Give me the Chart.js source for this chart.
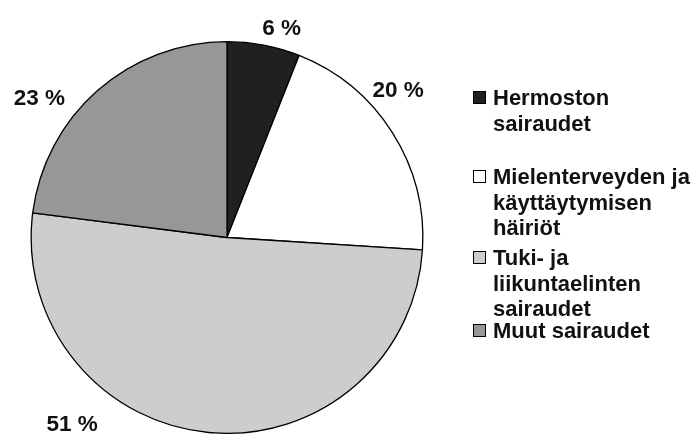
<!DOCTYPE html>
<html>
<head>
<meta charset="utf-8">
<script src="https://cdn.jsdelivr.net/npm/chart.js@4.4.1/dist/chart.umd.min.js"></script>
<style>
  html, body { margin: 0; padding: 0; background: #fff; overflow: hidden; }
  #wrap { width: 694px; height: 434px; position: relative; }
</style>
</head>
<body>
<div id="wrap"><canvas id="c"></canvas></div>
<script>
// ---- data ----
const categories = [
  ["Hermoston", "sairaudet"],
  ["Mielenterveyden ja", "käyttäytymisen", "häiriöt"],
  ["Tuki- ja", "liikuntaelinten", "sairaudet"],
  ["Muut sairaudet"]
];
const shares = [6, 20, 51, 23];
const valueLabels = ["6 %", "20 %", "51 %", "23 %"];

// ---- styles ----
const fills = ["#202020", "#ffffff", "#cdcdcd", "#979797"];
// label placement: angle (deg clockwise from top) and distance from pie center
const labelPlacement = [[14.6, 217], [49.2, 226], [219.8, 242], [306.7, 234]];
// legend: baseline of first line of each entry
const legendFirstBaseline = [105, 184, 265, 338];
const legendLineHeight = 25.5;

const labelPlugin = {
  id: 'customLabels',
  afterDraw(chart) {
    const ctx = chart.ctx;
    const meta = chart.getDatasetMeta(0);
    ctx.save();
    ctx.fillStyle = '#111';
    ctx.font = 'bold 22.5px "Liberation Sans", Arial, sans-serif';
    ctx.textAlign = 'center';
    ctx.textBaseline = 'middle';
    meta.data.forEach((arc, i) => {
      const a = labelPlacement[i][0] * Math.PI / 180;
      const d = labelPlacement[i][1];
      const x = arc.x + d * Math.sin(a);
      const y = arc.y - d * Math.cos(a);
      ctx.fillText(valueLabels[i], x, y + 1);
    });
    // legend
    ctx.font = 'bold 22px "Liberation Sans", Arial, sans-serif';
    ctx.textAlign = 'left';
    ctx.textBaseline = 'alphabetic';
    chart.data.labels.forEach((lines, i) => {
      const b = legendFirstBaseline[i];
      ctx.fillStyle = fills[i];
      ctx.fillRect(473, b - 14, 13, 13);
      ctx.strokeStyle = '#000';
      ctx.lineWidth = 1;
      ctx.strokeRect(473.5, b - 13.5, 12, 12);
      ctx.fillStyle = '#111';
      lines.forEach((t, j) => ctx.fillText(t, 493, b + j * legendLineHeight));
    });
    ctx.restore();
  }
};

new Chart(document.getElementById('c'), {
  type: 'pie',
  data: {
    labels: categories,
    datasets: [{
      data: shares,
      backgroundColor: fills,
      borderColor: '#000',
      borderWidth: 1.3
    }]
  },
  options: {
    responsive: true,
    maintainAspectRatio: false,
    animation: false,
    layout: { padding: { left: 30, right: 270, top: 41, bottom: 0 } },
    plugins: { legend: { display: false }, tooltip: { enabled: false } }
  },
  plugins: [labelPlugin]
});
</script>
</body>
</html>
